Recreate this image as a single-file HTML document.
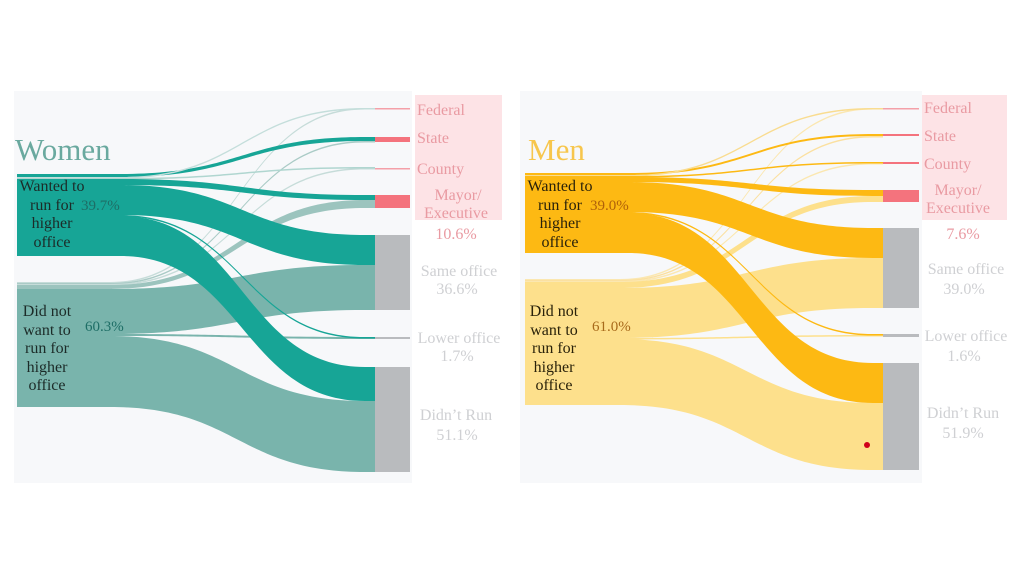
<!DOCTYPE html>
<html><head><meta charset="utf-8"><style>
html,body{margin:0;padding:0;background:#fff;}
svg{display:block;}
text{font-family:"Liberation Serif",serif;}
</style></head><body>
<svg id="s" width="1024" height="576" viewBox="0 0 1024 576" xmlns="http://www.w3.org/2000/svg">
<rect x="14" y="91" width="398" height="392" fill="#f7f8fa"/>
<rect x="520" y="91" width="402" height="392" fill="#f7f8fa"/>
<rect x="415" y="95" width="87" height="125" fill="#fde3e6"/>
<rect x="922" y="95" width="85" height="125" fill="#fde3e6"/>
<g id="flows"></g>
<!-- Women nodes -->
<rect x="375" y="137" width="35" height="5" fill="#f4737d"/>
<rect x="375" y="195" width="35" height="13" fill="#f4737d"/>
<rect x="375" y="108" width="35" height="1.5" fill="#f4a0a8"/>
<rect x="375" y="168" width="35" height="1.5" fill="#f4a0a8"/>
<rect x="375" y="235" width="35" height="75" fill="#b9bbbe"/>
<rect x="375" y="337" width="35" height="2" fill="#b9bbbe"/>
<rect x="375" y="367" width="35" height="105" fill="#b9bbbe"/>
<!-- Men nodes -->
<rect x="883" y="108" width="36" height="1.5" fill="#f4a0a8"/>
<rect x="883" y="134" width="36" height="2" fill="#f4737d"/>
<rect x="883" y="162" width="36" height="2" fill="#f4737d"/>
<rect x="883" y="190" width="36" height="12" fill="#f4737d"/>
<rect x="883" y="228" width="36" height="80" fill="#b9bbbe"/>
<rect x="883" y="334" width="36" height="3" fill="#b9bbbe"/>
<rect x="883" y="363" width="36" height="107" fill="#b9bbbe"/>
<circle cx="867" cy="445" r="3" fill="#d0021b"/>
<!-- Women text -->
<text x="15" y="160" font-size="31" fill="#6aa99f">Women</text>
<g font-size="16" fill="#1c2b28" text-anchor="middle">
<text x="52" y="191">Wanted to</text><text x="52" y="210">run for</text><text x="52" y="228">higher</text><text x="52" y="247">office</text>
<text x="47" y="316">Did not</text><text x="47" y="335">want to</text><text x="47" y="353">run for</text><text x="47" y="372">higher</text><text x="47" y="390">office</text>
</g>
<text x="81" y="210" font-size="15" fill="#1e6e66">39.7%</text>
<text x="85" y="331" font-size="15" fill="#1e6e66">60.3%</text>
<g font-size="16" fill="#e99aa2">
<text x="417" y="115">Federal</text><text x="417" y="143">State</text><text x="417" y="174">County</text>
<text x="458" y="200" text-anchor="middle">Mayor/</text><text x="456" y="218" text-anchor="middle">Executive</text>
<text x="456" y="239" text-anchor="middle">10.6%</text>
</g>
<g font-size="16" fill="#cfd0d3" text-anchor="middle">
<text x="459" y="276">Same office</text><text x="457" y="294">36.6%</text>
<text x="459" y="343">Lower office</text><text x="457" y="361">1.7%</text>
<text x="456" y="420">Didn’t Run</text><text x="457" y="440">51.1%</text>
</g>
<!-- Men text -->
<text x="528" y="160" font-size="31" fill="#f7c64c">Men</text>
<g font-size="16" fill="#2a220a" text-anchor="middle">
<text x="560" y="191">Wanted to</text><text x="560" y="210">run for</text><text x="560" y="228">higher</text><text x="560" y="247">office</text>
<text x="554" y="316">Did not</text><text x="554" y="335">want to</text><text x="554" y="353">run for</text><text x="554" y="372">higher</text><text x="554" y="390">office</text>
</g>
<text x="590" y="210" font-size="15" fill="#b0620a">39.0%</text>
<text x="592" y="331" font-size="15" fill="#a86a1a">61.0%</text>
<g font-size="16" fill="#e99aa2">
<text x="924" y="113">Federal</text><text x="924" y="141">State</text><text x="924" y="169">County</text>
<text x="958" y="195" text-anchor="middle">Mayor/</text><text x="958" y="213" text-anchor="middle">Executive</text>
<text x="963" y="239" text-anchor="middle">7.6%</text>
</g>
<g font-size="16" fill="#cfd0d3" text-anchor="middle">
<text x="966" y="274">Same office</text><text x="964" y="294">39.0%</text>
<text x="966" y="341">Lower office</text><text x="964" y="361">1.6%</text>
<text x="963" y="418">Didn’t Run</text><text x="963" y="438">51.9%</text>
</g>
</svg>
<script>
var g=document.getElementById('flows');
var XS,XE,XL,XR;
function f(a0,b0,a1,b1,c){
 if(b0-a0<1.5){b0=a0+1.5;b1=a1+1.5;}
 var xm=(XS+XE)/2;
 var d='M'+XL+' '+a0+' L'+XS+' '+a0+' C'+xm+' '+a0+','+xm+' '+a1+','+XE+' '+a1+' L'+XR+' '+a1+' L'+XR+' '+b1+' L'+XE+' '+b1+' C'+xm+' '+b1+','+xm+' '+b0+','+XS+' '+b0+' L'+XL+' '+b0+' Z';
 var p=document.createElementNS('http://www.w3.org/2000/svg','path');
 p.setAttribute('d',d);p.setAttribute('fill',c);g.appendChild(p);
}
function rect(x,y,w,h,c){var r=document.createElementNS('http://www.w3.org/2000/svg','rect');r.setAttribute('x',x);r.setAttribute('y',y);r.setAttribute('width',w);r.setAttribute('height',h);r.setAttribute('fill',c);g.appendChild(r);}
var L='#79b4ac',D='#17a596';
XL=17;XR=375;XS=110;XE=365;
rect(17,174,95,82,D);rect(17,282,95,125,L);
// women light
f(282,283,108,109,'#c6dcd9');f(283,284,141,142,'#aacbc6');f(284,285,168,169,'#c6dcd9');
f(285,289,200,208,'#9cc4be');f(289,334,265,310,L);f(334,336,337,339,L);f(336,407,401,472,L);
// women dark
XS=120;
f(174,177,137,141,D);f(177,178,108,109,'#c4dedb');f(178,179,167,168,'#b0d6d0');
f(179,185,195,200,D);f(185,215,235,265,D);f(215,216.5,337,338.5,D);f(216,256,367,401,D);
// men
var ML='#fde08c',MD='#fdb913';
XL=525;XR=883;XS=620;XE=873;
rect(525,173,95,80,MD);rect(525,279,95,126,ML);
f(279,280,108,109,'#fbe7b0');f(280,281,136,137,'#fbe0a0');f(281,282,163,164,'#fbe7b0');
f(282,288,196,202,ML);f(288,338,258,308,ML);f(338,339,335,337,ML);f(339,405,403,470,ML);
XS=628;
f(173,175,134,136,MD);f(175,176,108,109,'#f9dc90');f(176,177,162,163,MD);
f(177,182,190,196,MD);f(182,212,228,258,MD);f(212,213.5,334,335.5,MD);f(213,253,363,403,MD);
</script>
</body></html>
